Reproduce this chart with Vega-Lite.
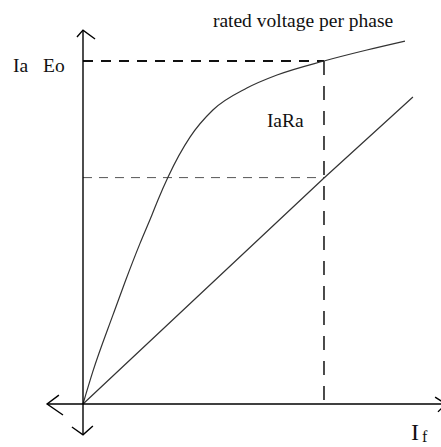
{
  "$schema": "https://vega.github.io/schema/vega-lite/v6.json",
  "width": 441,
  "height": 447,
  "padding": 0,
  "autosize": {"type": "none"},
  "background": "white",
  "config": {"view": {"stroke": null}},
  "datasets": {
    "axes": [
      {"seg": "xaxis", "ord": 1, "x": -1.49, "y": 0},
      {"seg": "xaxis", "ord": 2, "x": 15.2, "y": 0},
      {"seg": "yaxis", "ord": 1, "x": 0, "y": -0.9},
      {"seg": "yaxis", "ord": 2, "x": 0, "y": 10.9},
      {"seg": "up", "ord": 1, "x": -0.25, "y": 10.7},
      {"seg": "up", "ord": 2, "x": 0, "y": 10.9},
      {"seg": "up", "ord": 3, "x": 0.5, "y": 10.64},
      {"seg": "down", "ord": 1, "x": -0.46, "y": -0.67},
      {"seg": "down", "ord": 2, "x": 0, "y": -0.9},
      {"seg": "down", "ord": 3, "x": 0.41, "y": -0.64},
      {"seg": "left", "ord": 1, "x": -1.0, "y": 0.26},
      {"seg": "left", "ord": 2, "x": -1.49, "y": 0},
      {"seg": "left", "ord": 3, "x": -0.83, "y": -0.32},
      {"seg": "right", "ord": 1, "x": 14.61, "y": 0.2},
      {"seg": "right", "ord": 2, "x": 15.06, "y": 0},
      {"seg": "right", "ord": 3, "x": 14.73, "y": -0.23}
    ],
    "occ": [
      {"x": 0, "y": 0},
      {"x": 0.41, "y": 0.95},
      {"x": 1.24, "y": 2.59},
      {"x": 1.74, "y": 3.55},
      {"x": 2.37, "y": 4.69},
      {"x": 2.86, "y": 5.51},
      {"x": 3.11, "y": 5.95},
      {"x": 3.53, "y": 6.62},
      {"x": 4.44, "y": 7.78},
      {"x": 5.39, "y": 8.57},
      {"x": 6.8, "y": 9.21},
      {"x": 8.05, "y": 9.59},
      {"x": 10, "y": 10},
      {"x": 11.78, "y": 10.32},
      {"x": 13.36, "y": 10.58}
    ],
    "scc": [
      {"x": 0, "y": 0},
      {"x": 10, "y": 6.59},
      {"x": 13.69, "y": 8.95}
    ],
    "topguide": [
      {"ord": 1, "x": 0, "y": 10},
      {"ord": 2, "x": 10, "y": 10}
    ],
    "vguide": [
      {"ord": 1, "x": 10, "y": 10},
      {"ord": 2, "x": 10, "y": 0}
    ],
    "midguide": [
      {"ord": 1, "x": 0, "y": 6.6},
      {"ord": 2, "x": 10, "y": 6.6}
    ],
    "labels": [
      {"x": 5.39, "y": 10.99, "text": "rated voltage per phase"},
      {"x": -2.9, "y": 9.68, "text": "Ia"},
      {"x": -1.66, "y": 9.68, "text": "Eo"},
      {"x": 7.63, "y": 8.08, "text": "IaRa"}
    ],
    "ilabel": [
      {"x": 13.61, "y": -1.05, "text": "I"}
    ],
    "flabel": [
      {"x": 14.07, "y": -1.12, "text": "f"}
    ]
  },
  "layer": [
    {
      "data": {"name": "midguide"},
      "mark": {"type": "line", "stroke": "#555555", "strokeWidth": 1, "strokeDash": [9, 7]},
      "encoding": {
        "x": {"field": "x", "type": "quantitative", "scale": {"domain": [-3.444, 14.855], "nice": false, "zero": false}, "axis": null},
        "y": {"field": "y", "type": "quantitative", "scale": {"domain": [-1.254, 11.778], "nice": false, "zero": false}, "axis": null},
        "order": {"field": "ord"}
      }
    },
    {
      "data": {"name": "topguide"},
      "mark": {"type": "line", "stroke": "#111111", "strokeWidth": 2, "strokeDash": [10, 8]},
      "encoding": {
        "x": {"field": "x", "type": "quantitative"},
        "y": {"field": "y", "type": "quantitative"},
        "order": {"field": "ord"}
      }
    },
    {
      "data": {"name": "vguide"},
      "mark": {"type": "line", "stroke": "#111111", "strokeWidth": 1.5, "strokeDash": [14, 11]},
      "encoding": {
        "x": {"field": "x", "type": "quantitative"},
        "y": {"field": "y", "type": "quantitative"},
        "order": {"field": "ord"}
      }
    },
    {
      "data": {"name": "occ"},
      "mark": {"type": "line", "stroke": "#333333", "strokeWidth": 1.2, "interpolate": "monotone"},
      "encoding": {
        "x": {"field": "x", "type": "quantitative"},
        "y": {"field": "y", "type": "quantitative"}
      }
    },
    {
      "data": {"name": "scc"},
      "mark": {"type": "line", "stroke": "#333333", "strokeWidth": 1.2},
      "encoding": {
        "x": {"field": "x", "type": "quantitative"},
        "y": {"field": "y", "type": "quantitative"}
      }
    },
    {
      "data": {"name": "axes"},
      "mark": {"type": "line", "stroke": "#000000", "strokeWidth": 1.4},
      "encoding": {
        "x": {"field": "x", "type": "quantitative"},
        "y": {"field": "y", "type": "quantitative"},
        "detail": {"field": "seg"},
        "order": {"field": "ord"}
      }
    },
    {
      "data": {"name": "labels"},
      "mark": {"type": "text", "align": "left", "baseline": "alphabetic", "font": "Liberation Serif", "fontSize": 19.5, "fill": "#111111"},
      "encoding": {
        "x": {"field": "x", "type": "quantitative"},
        "y": {"field": "y", "type": "quantitative"},
        "text": {"field": "text"}
      }
    },
    {
      "data": {"name": "ilabel"},
      "mark": {"type": "text", "align": "left", "baseline": "alphabetic", "font": "Liberation Serif", "fontSize": 24, "fill": "#111111"},
      "encoding": {
        "x": {"field": "x", "type": "quantitative"},
        "y": {"field": "y", "type": "quantitative"},
        "text": {"field": "text"}
      }
    },
    {
      "data": {"name": "flabel"},
      "mark": {"type": "text", "align": "left", "baseline": "alphabetic", "font": "Liberation Serif", "fontSize": 16, "fill": "#111111"},
      "encoding": {
        "x": {"field": "x", "type": "quantitative"},
        "y": {"field": "y", "type": "quantitative"},
        "text": {"field": "text"}
      }
    }
  ]
}
